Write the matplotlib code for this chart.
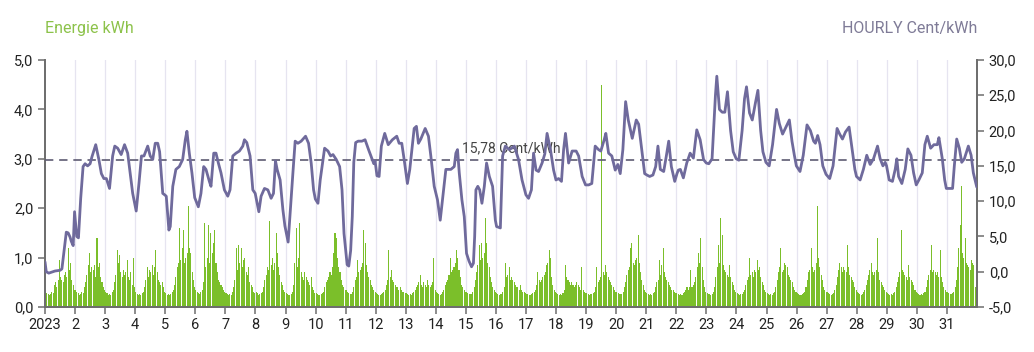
import matplotlib
matplotlib.use("Agg")
import matplotlib.pyplot as plt
import numpy as np

plt.rcParams['font.family'] = ['Roboto', 'DejaVu Sans']

# hourly energy use, kWh, one row of 24 values per day (January 2023)
energy_kwh = [
    [0.30,0.28,0.27,0.25,0.26,0.30,0.28,0.45,0.50,0.40,0.55,0.95,0.60,0.55,0.50,0.65,0.70,0.60,1.20,0.75,0.90,0.55,0.45,0.35],
    [0.35,0.30,0.28,0.25,0.27,0.30,0.28,0.40,0.50,0.65,0.85,1.10,0.70,0.80,0.75,0.85,0.60,1.40,0.80,0.90,0.60,0.50,0.40,0.35],
    [0.30,0.28,0.25,0.27,0.25,0.30,0.35,0.50,0.65,1.15,0.90,1.05,0.70,0.60,0.75,0.65,0.70,0.95,0.60,0.55,0.70,0.45,1.00,0.40],
    [0.30,0.27,0.25,0.26,0.25,0.28,0.30,0.40,0.55,0.80,0.60,0.75,0.70,0.85,0.65,0.80,1.15,0.70,0.55,0.50,0.45,0.50,0.40,0.30],
    [0.28,0.25,0.27,0.25,0.26,0.30,0.35,0.45,0.60,0.80,0.90,1.60,0.95,1.20,1.55,0.90,1.00,1.10,2.05,1.20,1.10,0.70,0.55,0.40],
    [0.35,0.30,0.28,0.27,0.30,0.35,0.50,1.70,0.80,1.00,1.65,0.90,1.50,1.10,1.30,1.55,0.90,0.70,0.55,0.50,0.45,0.40,0.35,0.30],
    [0.28,0.27,0.25,0.26,0.25,0.30,0.40,0.55,1.20,0.75,1.25,0.90,1.20,0.80,0.95,1.00,0.70,0.65,0.80,0.50,0.45,0.40,0.30,0.28],
    [0.30,0.28,0.25,0.26,0.28,0.30,0.40,0.55,0.65,0.80,0.75,1.75,0.85,1.00,0.75,0.90,1.50,1.10,0.80,0.65,0.50,0.45,0.35,0.30],
    [0.28,0.26,0.25,0.25,0.27,0.30,0.45,0.90,1.60,0.80,1.00,1.70,0.70,0.60,0.55,0.70,0.60,0.55,0.50,0.45,0.60,0.40,0.35,0.28],
    [0.28,0.27,0.25,0.25,0.26,0.28,0.30,0.40,0.50,0.55,0.60,0.70,0.65,0.80,1.10,1.50,1.40,1.00,0.80,0.70,0.55,0.45,0.40,0.35],
    [0.35,0.30,0.28,0.27,0.27,0.30,0.40,0.55,0.60,0.95,0.70,0.75,0.80,0.90,1.55,1.30,0.85,0.70,0.60,0.55,0.45,0.40,0.35,0.30],
    [0.28,0.26,0.25,0.25,0.26,0.28,0.30,0.35,0.45,0.55,1.15,0.60,0.75,0.55,0.50,0.45,0.40,0.40,0.35,0.40,0.35,0.30,0.30,0.28],
    [0.28,0.27,0.25,0.26,0.25,0.28,0.30,0.35,0.40,0.45,0.50,0.65,0.45,0.40,0.50,0.45,0.40,0.55,0.45,0.40,0.45,0.50,1.00,0.35],
    [0.30,0.28,0.27,0.25,0.26,0.30,0.35,0.45,0.50,0.55,0.65,1.00,0.70,0.75,0.80,0.90,1.15,1.00,0.75,0.60,0.45,0.40,0.35,0.30],
    [0.30,0.28,0.27,0.26,0.27,0.30,0.40,0.55,0.70,0.85,1.25,0.95,1.30,1.00,1.10,1.80,1.30,0.90,0.80,0.60,0.50,0.40,0.35,0.30],
    [0.28,0.27,0.25,0.26,0.27,0.30,0.40,0.90,0.60,0.65,0.80,0.55,0.60,0.55,0.50,0.45,0.40,0.40,0.35,0.45,0.35,0.30,0.30,0.28],
    [0.27,0.26,0.25,0.25,0.26,0.28,0.30,0.35,0.45,0.70,0.55,0.50,0.55,0.60,0.65,0.70,0.85,0.90,1.15,1.00,0.60,0.45,0.35,0.30],
    [0.28,0.27,0.25,0.26,0.25,0.28,0.35,0.85,0.60,0.55,0.50,0.45,0.50,0.45,0.40,0.45,0.50,0.45,0.40,0.35,0.80,0.35,0.30,0.28],
    [0.28,0.27,0.25,0.26,0.27,0.28,0.30,0.40,0.80,0.50,0.55,0.60,4.50,0.70,0.65,0.85,0.70,0.60,0.55,0.50,0.45,0.40,0.35,0.30],
    [0.30,0.28,0.27,0.26,0.27,0.30,0.40,0.50,0.65,0.75,0.80,1.20,1.30,0.90,0.85,0.95,1.00,1.45,0.90,0.70,0.55,0.45,0.35,0.30],
    [0.28,0.27,0.25,0.26,0.25,0.28,0.30,0.40,0.50,0.55,0.95,0.65,0.85,1.20,0.70,0.60,0.55,0.50,0.45,0.40,0.35,0.35,0.30,0.28],
    [0.28,0.27,0.25,0.26,0.25,0.28,0.30,0.35,0.40,0.35,0.40,0.75,0.40,0.45,0.50,0.60,0.80,1.10,0.90,1.40,0.80,0.55,0.40,0.30],
    [0.28,0.27,0.26,0.25,0.27,0.30,0.40,0.60,0.80,1.25,0.90,1.80,1.45,0.85,0.75,0.70,0.65,0.60,0.85,0.60,0.50,0.45,0.35,0.30],
    [0.28,0.27,0.25,0.26,0.27,0.30,0.35,0.45,0.55,0.60,1.00,0.65,0.70,0.60,0.75,0.70,0.95,0.75,0.80,0.60,0.50,0.45,0.35,0.30],
    [0.28,0.27,0.25,0.26,0.25,0.28,0.30,0.40,0.55,0.70,0.80,1.20,0.70,0.75,0.90,0.85,0.80,0.65,0.60,0.55,0.50,0.40,0.35,0.30],
    [0.28,0.26,0.25,0.25,0.26,0.28,0.30,0.40,0.55,0.70,0.75,1.20,0.80,0.70,0.75,0.90,2.05,1.00,0.80,0.65,0.55,0.40,0.35,0.30],
    [0.30,0.28,0.26,0.25,0.26,0.28,0.35,0.45,0.60,0.75,0.90,0.80,0.70,0.80,0.75,0.70,1.25,0.80,0.65,0.60,0.55,0.50,0.40,0.35],
    [0.30,0.28,0.26,0.25,0.27,0.30,0.35,0.45,0.55,0.65,0.75,0.90,0.70,0.65,0.70,0.75,1.40,0.70,0.55,0.50,0.45,0.40,0.35,0.30],
    [0.28,0.27,0.25,0.26,0.25,0.28,0.30,0.40,0.50,0.60,0.70,1.55,0.75,0.70,0.65,0.60,0.55,0.85,0.60,0.55,0.50,0.45,0.35,0.30],
    [0.28,0.27,0.25,0.26,0.25,0.28,0.30,0.40,0.55,0.65,0.75,1.25,0.70,0.75,0.70,0.65,0.70,0.60,1.15,0.60,0.50,0.40,0.35,0.30],
    [0.30,0.28,0.27,0.26,0.28,0.30,0.40,0.55,0.80,1.20,1.65,2.45,1.10,1.00,1.40,0.90,0.85,0.80,0.75,0.95,0.90,0.85,0.40,0.35],
]

# hourly price, Cent/kWh: hour of day and value, per day
price_hours = [
    [0, 1, 3, 8, 12, 13.5, 15.5, 17, 18.5, 20, 21, 22.5, 23.6],
    [1.3, 2.7, 4.5, 6.4, 8, 10, 12, 13.5, 16.5, 19, 21, 23],
    [1, 3.5, 6, 7.7, 10, 12.8, 15.5, 18, 20, 22],
    [0.8, 3, 5, 7, 10, 12, 14, 16, 18, 19.5, 22, 23.5],
    [0.8, 2.9, 4, 6, 8.5, 11.2, 13.9, 16, 17.3, 19.2, 21.3, 23.5],
    [2.4, 4.5, 6.7, 8.5, 11.2, 12.5, 14.7, 16.5, 18.4, 20.5, 23.2],
    [1.9, 3.7, 5.9, 8.5, 11.2, 13.9, 15.2, 17.1, 19.7, 21.9, 23.8],
    [2.7, 4.5, 7.2, 9.9, 12.5, 14.4, 16, 17.3, 19.7, 21.9, 23.5],
    [2.1, 4, 5.9, 7.7, 9.9, 12.5, 16, 18.4, 20.5, 22.4, 23.8],
    [1.9, 3.7, 7.2, 9.9, 12, 13.9, 16.5, 19.2, 21.1, 22.7],
    [1.2, 2.5, 4, 5.3, 6.5, 8, 10, 13, 15.5, 18.5, 21, 22.5, 23.5],
    [1, 2.7, 4.5, 7.2, 10, 13.3, 16.8, 18.7, 20.8, 22.7],
    [1.3, 3.2, 6.7, 8.5, 10.1, 12, 15.5, 18.1, 20, 22.7],
    [1.3, 3.5, 5.3, 8, 12, 14.7, 16, 17.3, 18.7, 20.8, 22.7],
    [0.5, 2.5, 4.5, 6, 7, 8, 9.5, 11, 12.8, 14.7, 16.5, 18.7, 21.3, 23.5],
    [0.5, 3.5, 5.3, 7.5, 10.7, 14.7, 18, 20.8, 23.9],
    [2, 4.3, 6, 8, 10, 12.8, 15, 16.8, 19.5, 22, 23.9],
    [2, 4.3, 6, 7.5, 10, 12.8, 16, 18, 20.8, 23.5],
    [2, 4.5, 7.2, 9.9, 11.7, 14.4, 15.7, 17.9, 20.5, 23.2],
    [1.3, 3.2, 5.3, 7.5, 9.6, 12.8, 16, 17.9, 20, 22.7],
    [0.5, 2.7, 5.3, 7.5, 9.3, 11.2, 13.9, 16, 17.9, 20, 22.7],
    [0.5, 1.6, 3.2, 5.6, 8.3, 11, 13.6, 16.3, 19, 21.7, 23.9],
    [1.9, 4.5, 7.2, 8.3, 10.4, 12.6, 14.7, 16.8, 19.3, 21.4, 23.8],
    [1.9, 4.5, 6.4, 8, 10.4, 12.6, 15.2, 17.1, 19.3, 21.1, 23.5],
    [2.1, 4.8, 8, 10.2, 12.8, 15.5, 18.2, 20.3, 22.2, 23.8],
    [2.7, 5.3, 8.3, 11, 13.6, 15, 16.8, 18.7, 20.9, 23.5],
    [2.4, 5.1, 8.3, 10.4, 12.6, 15, 17.9, 19.8, 22.5, 23.8],
    [2.7, 5.3, 8, 10.7, 13.4, 16.6, 18.7, 20.9, 22.7, 23.8],
    [1.9, 4.5, 6.7, 8, 9.4, 12, 14.7, 16.8, 19.3, 21.4, 23.5],
    [1.6, 4.3, 6.4, 8.3, 11, 13.6, 16.3, 17.6, 20.3, 22.2, 23.5],
    [1.9, 4.5, 5.9, 7.8, 9.9, 11.8, 13.9, 17.1, 19.3, 21.1, 23.8],
]
price_cent = [
    [1.4, 0.0, -0.2, 0.1, 0.2, 0.4, 3.4, 5.6, 5.5, 4.9, 4.3, 3.7, 8.5],
    [5.0, 4.8, 10.4, 14.9, 15.3, 15.0, 15.3, 16.3, 18.0, 15.9, 13.9, 13.2],
    [13.2, 11.8, 16.4, 17.8, 17.5, 16.6, 18.0, 16.8, 14.0, 11.1],
    [8.6, 12.5, 16.4, 16.4, 17.8, 16.4, 15.9, 18.2, 18.2, 17.0, 11.1, 10.9],
    [10.7, 5.9, 6.4, 12.1, 14.5, 14.9, 15.9, 18.7, 19.9, 16.8, 14.0, 10.5],
    [9.2, 11.1, 14.9, 14.5, 12.8, 12.1, 16.8, 16.8, 15.4, 14.0, 11.6],
    [10.7, 11.6, 16.4, 16.8, 17.1, 17.8, 18.7, 18.3, 16.4, 11.6, 11.1],
    [8.5, 10.7, 11.8, 11.6, 10.4, 11.1, 15.7, 14.5, 13.0, 8.8, 6.5],
    [4.2, 9.2, 14.0, 18.5, 18.2, 18.5, 19.2, 18.2, 15.4, 11.6, 10.3],
    [9.7, 13.0, 17.5, 17.1, 16.4, 16.6, 15.9, 14.9, 11.6, 5.4],
    [1.0, 0.8, 3.0, 7.8, 15.5, 18.3, 18.5, 18.5, 18.7, 17.2, 16.0, 15.3, 15.7],
    [13.6, 13.5, 17.8, 19.6, 18.0, 18.7, 19.2, 18.2, 18.2, 15.9],
    [12.5, 14.5, 20.3, 20.6, 18.2, 18.8, 20.3, 19.2, 16.4, 12.1],
    [10.2, 7.3, 10.2, 14.5, 14.5, 14.9, 16.8, 17.3, 14.0, 10.2, 7.8],
    [2.6, 1.5, 0.7, 1.2, 5.0, 11.6, 12.1, 11.6, 9.7, 12.1, 15.4, 13.5, 12.1, 7.3],
    [6.4, 6.2, 16.4, 17.8, 17.3, 17.8, 15.9, 13.0, 10.9],
    [10.4, 11.6, 16.8, 14.4, 14.2, 15.4, 16.7, 19.6, 17.3, 14.4, 13.0],
    [13.2, 12.8, 17.3, 19.6, 15.4, 17.1, 17.1, 16.4, 13.5, 12.3],
    [12.3, 12.5, 17.8, 17.3, 17.1, 18.7, 19.6, 16.8, 16.4, 14.4],
    [15.2, 13.9, 17.3, 24.1, 21.5, 18.9, 21.5, 20.9, 17.8, 13.9],
    [13.7, 13.5, 13.7, 14.9, 17.8, 14.5, 14.2, 16.4, 18.5, 14.9, 12.8],
    [13.9, 14.4, 14.5, 13.3, 15.4, 16.8, 16.1, 20.1, 18.7, 15.9, 15.4],
    [15.3, 16.0, 25.0, 27.7, 23.0, 22.6, 22.6, 25.5, 20.0, 17.0, 16.0],
    [15.8, 20.0, 24.5, 26.2, 22.5, 21.5, 24.0, 25.7, 20.0, 17.0, 15.5],
    [15.0, 18.0, 23.0, 21.0, 19.5, 20.5, 21.5, 18.5, 16.5, 15.0],
    [14.2, 16.5, 20.8, 20.0, 18.5, 18.2, 19.3, 18.0, 15.0, 13.8],
    [13.2, 15.0, 20.3, 19.5, 18.8, 19.8, 20.5, 18.0, 14.5, 13.5],
    [13.0, 14.5, 16.5, 15.2, 16.0, 17.8, 16.0, 15.0, 15.5, 15.0],
    [13.0, 12.8, 14.5, 16.0, 13.5, 12.5, 14.5, 17.4, 16.5, 14.0, 12.3],
    [13.0, 14.0, 18.0, 19.2, 17.5, 18.0, 18.0, 19.0, 16.0, 13.0, 11.8],
    [11.8, 11.8, 15.0, 18.8, 17.5, 15.5, 16.0, 17.8, 16.5, 14.0, 12.0],
]

avg_price = 15.78
day_labels = ["2023"] + [str(d) for d in range(2, 32)]

GREEN = "#7bbf2a"
PURPLE = "#6f6a9c"
GRID = "#e6e4f0"
AXIS = "#6e6e6e"

energy = np.concatenate([np.array(d) for d in energy_kwh])
hours = np.arange(len(energy))
p_x = np.concatenate([np.array(h) + 24 * i for i, h in enumerate(price_hours)])
p_y = np.concatenate([np.array(v) for v in price_cent])

fig = plt.figure(figsize=(10.34, 3.52), dpi=100)
ax = fig.add_axes([45 / 1034, 45 / 352, 932 / 1034, 247 / 352])
ax2 = ax.twinx()

n_hours = 24 * len(energy_kwh)
day_ticks = np.arange(0, n_hours, 24)
for t in day_ticks[1:]:
    ax.axvline(t, color=GRID, lw=0.9, zorder=0)

ax.bar(hours + 0.5, energy, width=0.82, color=GREEN, linewidth=0, zorder=2)
ax.set_xlim(0, n_hours)
ax.set_ylim(0, 5)
ax.set_yticks(np.arange(0, 5.1, 1))
ax.set_yticklabels([f"{v:.1f}".replace(".", ",") for v in np.arange(0, 5.1, 1)])
ax.set_xticks(day_ticks)
ax.set_xticklabels(day_labels)

ax2.set_ylim(-5, 30)
ax2.set_yticks(np.arange(-5, 31, 5))
ax2.set_yticklabels([f"{v:.1f}".replace(".", ",") for v in np.arange(-5, 31, 5)])
ax2.axhline(avg_price, color="#5d5b72", lw=1.2, dashes=(5, 3.5), zorder=3)
ax2.plot(p_x, p_y, color=PURPLE, lw=2.0, solid_joinstyle="round",
         solid_capstyle="round", zorder=4)
ax2.annotate(f"{avg_price:.2f}".replace(".", ",") + " Cent/kWh",
             xy=(n_hours / 2, avg_price), xytext=(0, 4), textcoords="offset points",
             ha="center", va="bottom", fontsize=10, color="#444444")

for a in (ax, ax2):
    a.spines["top"].set_visible(False)
    for s in ("left", "right", "bottom"):
        a.spines[s].set_color(AXIS)
        a.spines[s].set_linewidth(1.3)
    a.tick_params(axis="both", colors=AXIS, labelcolor="#222222",
                  labelsize=10.5, length=5, width=1.1)
ax.tick_params(axis="x", pad=3)

fig.text(45 / 1034, 1 - 28 / 352, "Energie kWh", color="#8cc24a",
         fontsize=11.5, ha="left", va="center")
fig.text(977 / 1034, 1 - 28 / 352, "HOURLY Cent/kWh", color="#7f7b97",
         fontsize=11.5, ha="right", va="center")

fig.savefig("out.png", dpi=100)
